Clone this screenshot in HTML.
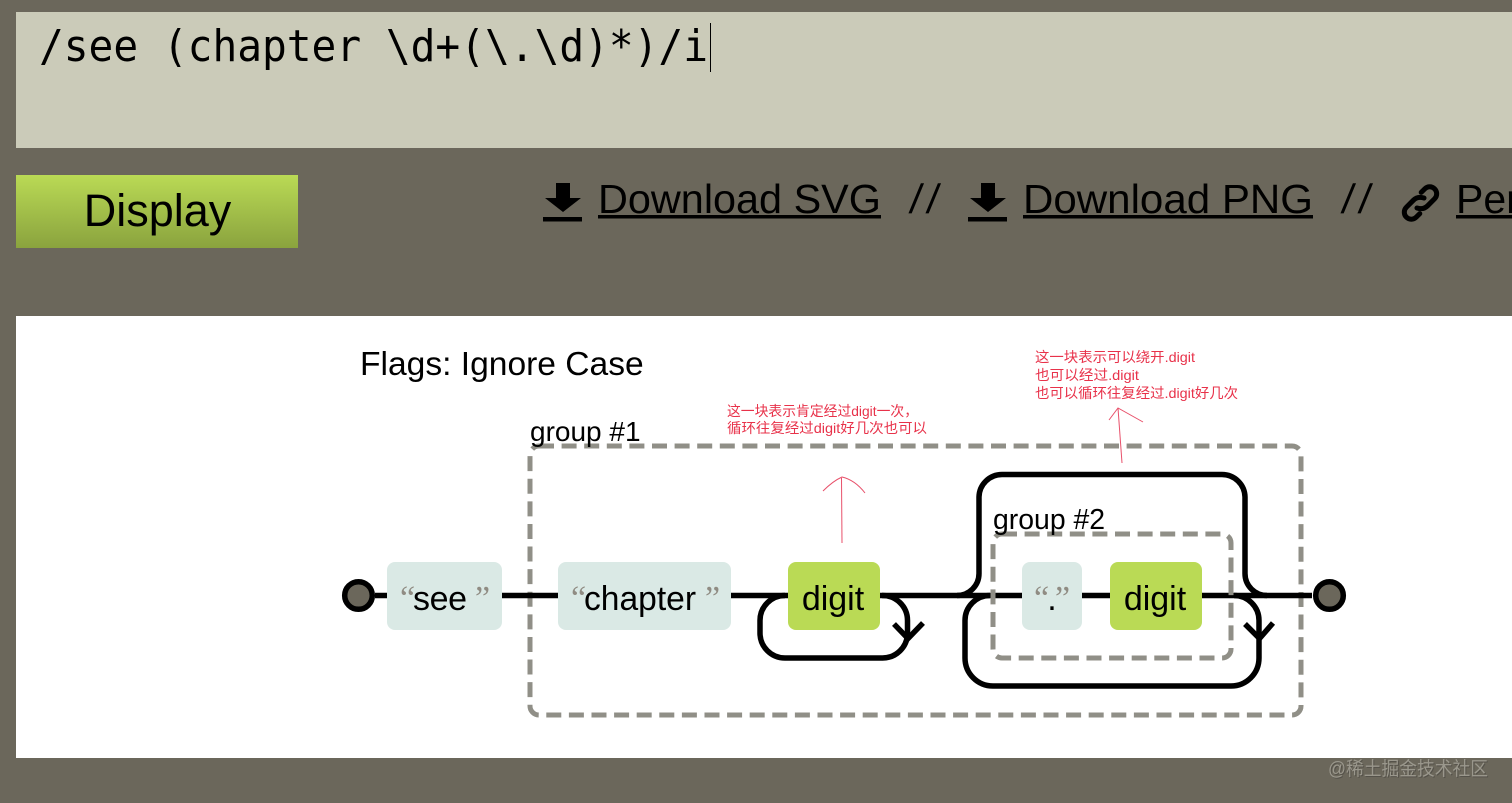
<!DOCTYPE html>
<html lang="zh">
<head>
<meta charset="utf-8">
<title>Regexper diagram</title>
<style>
html,body{margin:0;padding:0;width:1512px;height:803px;overflow:hidden;background:#6b675b}
svg{display:block}
text{font-family:"Liberation Sans","Noto Sans CJK SC",sans-serif}
.mono{font-family:"DejaVu Sans Mono","Liberation Mono",monospace}
.big{font-size:34px;fill:#000}
.q{font-size:34px;fill:#908c83;font-family:"Liberation Serif",serif}
.red{font-size:14px;fill:#e8324a;font-family:"Liberation Sans","Noto Sans CJK SC",sans-serif}
.link{font-size:41px;fill:#000}
</style>
</head>
<body>
<svg width="1512" height="803" viewBox="0 0 1512 803" xmlns="http://www.w3.org/2000/svg">
<defs>
<linearGradient id="btn" x1="0" y1="0" x2="0" y2="1">
<stop offset="0" stop-color="#bada55"/>
<stop offset="1" stop-color="#8aa33e"/>
</linearGradient>
</defs>

<rect width="1512" height="803" fill="#6b675b"/>

<!-- regex input -->
<rect x="16" y="12" width="1496" height="136" fill="#cbcbb9"/>
<text class="mono" x="39" y="61" font-size="44" fill="#000" textLength="669" lengthAdjust="spacingAndGlyphs">/see (chapter \d+(\.\d)*)/i</text>
<rect x="710" y="23" width="1" height="49" fill="#000"/>

<!-- display button -->
<rect x="16" y="175" width="282" height="73" fill="url(#btn)"/>
<text x="157.500" y="226" font-size="45" text-anchor="middle" fill="#000">Display</text>

<!-- download svg -->
<path d="M556 183h14v15h11l-18 14-18-14h11z" fill="#000"/>
<rect x="543" y="217" width="39" height="4.500" fill="#000"/>
<text class="link" x="598" y="213" textLength="283" lengthAdjust="spacingAndGlyphs">Download SVG</text>
<rect x="598" y="215" width="283" height="3.500" fill="#000"/>
<text class="link" transform="translate(908.500 213) skewX(-8)" letter-spacing="5.600">//</text>

<!-- download png -->
<path d="M981 183h14v15h11l-18 14-18-14h11z" fill="#000"/>
<rect x="968" y="217" width="39" height="4.500" fill="#000"/>
<text class="link" x="1023" y="213" textLength="290" lengthAdjust="spacingAndGlyphs">Download PNG</text>
<rect x="1023" y="215" width="290" height="3.500" fill="#000"/>
<text class="link" transform="translate(1340.500 213) skewX(-8)" letter-spacing="5.600">//</text>

<!-- permalink -->
<g transform="translate(1420.500 203) rotate(-45)" fill="none" stroke="#000" stroke-width="5" stroke-linecap="round">
<path d="M-6 1Q-3 7 3 7H13A7 7 0 0 0 13 -7H8"/>
<path d="M6 -1Q3 -7 -3 -7H-13A7 7 0 0 0 -13 7H-8"/>
</g>
<text class="link" x="1456" y="213">Permalink</text>
<rect x="1456" y="215" width="56" height="3.500" fill="#000"/>

<!-- diagram canvas -->
<rect x="16" y="316" width="1496" height="442" fill="#fff"/>

<text x="360" y="375" font-size="33.600" fill="#000">Flags: Ignore Case</text>

<!-- group 1 -->
<rect x="530" y="446" width="771" height="269" rx="9" fill="none" stroke="#908f87" stroke-width="5" stroke-dasharray="15 7.600"/>
<text x="530" y="441" font-size="28" fill="#000">group #1</text>

<!-- connectors -->
<g fill="none" stroke="#000" stroke-width="5.500">
<path d="M375 595.500H387M502 595.500H558M731 595.500H788M880 595.500H1022M1082 595.500H1110M1202 595.500H1312"/>
<path d="M785 595.500A25 25 0 0 0 760 620.500V633A25 25 0 0 0 785 658H882A25 25 0 0 0 907.500 633V620.500A25 25 0 0 0 882 595.500"/>
<path d="M894 624L908 638.500L923 623"/>
<path d="M957 595.500A22 22 0 0 0 979 573.500V497A23 23 0 0 1 1002 474.500H1222A23 23 0 0 1 1245 497V573.500A22 22 0 0 0 1267 595.500"/>
<path d="M990 595.500A25 25 0 0 0 965 620.500V658A28 28 0 0 0 993 686H1231A28 28 0 0 0 1259 658V620.500A25 25 0 0 0 1234 595.500"/>
<path d="M1245 624L1259.500 638.500L1273 623"/>
</g>

<!-- terminals -->
<circle cx="358.500" cy="595.500" r="13.800" fill="#6b675b" stroke="#000" stroke-width="5.500"/>
<circle cx="1329.500" cy="595.500" r="13.800" fill="#6b675b" stroke="#000" stroke-width="5.500"/>

<!-- nodes -->
<rect x="387" y="562" width="115" height="68" rx="8" fill="#dae9e5"/>
<text class="q" x="400" y="609">“</text>
<text class="big" x="413" y="610" textLength="54">see</text>
<text class="q" x="475" y="609">”</text>

<rect x="558" y="562" width="173" height="68" rx="8" fill="#dae9e5"/>
<text class="q" x="571" y="609">“</text>
<text class="big" x="584" y="610" textLength="112" lengthAdjust="spacingAndGlyphs">chapter</text>
<text class="q" x="705" y="609">”</text>

<rect x="788" y="562" width="92" height="68" rx="8" fill="#bada55"/>
<text class="big" x="833" y="610" text-anchor="middle">digit</text>

<!-- group 2 -->
<rect x="993" y="534" width="238" height="124" rx="9" fill="none" stroke="#908f87" stroke-width="5" stroke-dasharray="15 7.600"/>
<text x="993" y="529" font-size="28.400" fill="#000">group #2</text>

<rect x="1022" y="562" width="60" height="68" rx="8" fill="#dae9e5"/>
<text class="q" x="1034" y="609">“</text>
<text class="big" x="1052" y="610" text-anchor="middle">.</text>
<text class="q" x="1055" y="609">”</text>

<rect x="1110" y="562" width="92" height="68" rx="8" fill="#bada55"/>
<text class="big" x="1155" y="610" text-anchor="middle">digit</text>

<!-- annotations -->
<g fill="none" stroke="#e8506a" stroke-width="1">
<path d="M842 543L841.500 478"/>
<path d="M823 491Q833 481 842 477Q855 480 865 493"/>
<path d="M1122 463L1118 408"/>
<path d="M1109 420L1118 408L1143 422"/>
</g>
<text class="red" x="727" y="416" textLength="191" lengthAdjust="spacingAndGlyphs">这一块表示肯定经过digit一次，</text>
<text class="red" x="727" y="433" textLength="200" lengthAdjust="spacingAndGlyphs">循环往复经过digit好几次也可以</text>
<text class="red" x="1035" y="362" textLength="160" lengthAdjust="spacingAndGlyphs">这一块表示可以绕开.digit</text>
<text class="red" x="1035" y="380" textLength="104" lengthAdjust="spacingAndGlyphs">也可以经过.digit</text>
<text class="red" x="1035" y="398" textLength="203" lengthAdjust="spacingAndGlyphs">也可以循环往复经过.digit好几次</text>

<!-- watermark -->
<text x="1329" y="776" font-size="19" fill="#55524a" textLength="160" lengthAdjust="spacingAndGlyphs">@稀土掘金技术社区</text>
<text x="1328" y="775" font-size="19" fill="#9a978c" textLength="160" lengthAdjust="spacingAndGlyphs">@稀土掘金技术社区</text>
</svg>
</body>
</html>
